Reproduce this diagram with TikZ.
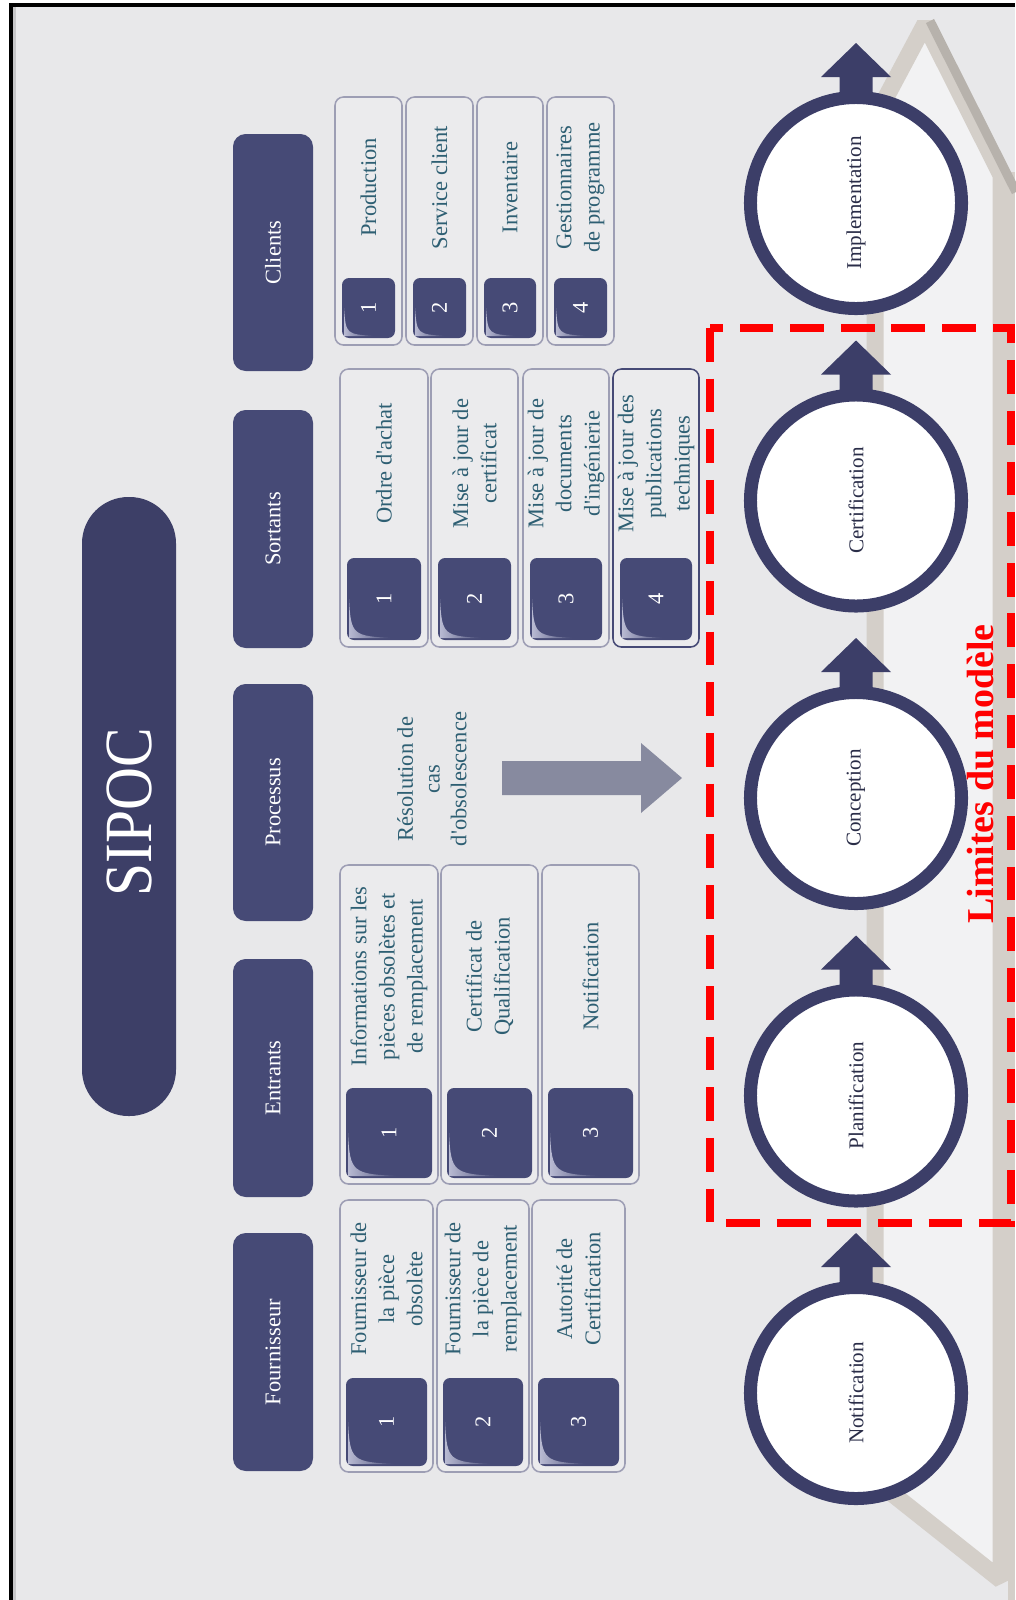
\documentclass[tikz,border=0pt]{standalone}
\usepackage{fontspec}
\usepackage{graphicx}
\setmainfont{Liberation Serif}
\usetikzlibrary{fit,calc}

\definecolor{panel}{HTML}{E8E8EA}
\definecolor{navy}{HTML}{464A76}
\definecolor{pillnavy}{HTML}{3D3F67}
\definecolor{ring}{HTML}{3C3E68}
\definecolor{itemfill}{HTML}{EBEBED}
\definecolor{itemline}{HTML}{9D9EB4}
\definecolor{itemtext}{HTML}{2E5F73}
\definecolor{band}{HTML}{D4CFC9}
\definecolor{bandshade}{HTML}{B7B2AC}
\definecolor{innerfill}{HTML}{F2F2F3}
\definecolor{flow}{HTML}{878A9F}
\definecolor{steptext}{HTML}{2A2D48}
\definecolor{gloss}{HTML}{B8BAD2}
\definecolor{limred}{HTML}{FF0000}
\definecolor{edgeshade}{HTML}{C6C6C8}

\newcommand\boxfont{\fontsize{16pt}{20pt}\selectfont}

\tikzset{
  itembox/.style={draw=itemline, fill=itemfill, line width=1.1pt, rounded corners=6pt, inner sep=0pt},
  itemextra/.style={},
  numbox/.style={fill=navy, rounded corners=5pt, inner sep=0pt},
  numtext/.style={text=white, font=\boxfont, inner sep=0pt},
  itemtext/.style={text=itemtext, font=\boxfont, align=center, inner sep=0pt},
  hdr/.style={fill=navy, rounded corners=9pt, inner sep=0pt},
  hdrtext/.style={text=white, font=\boxfont, inner sep=0pt},
  stepcircle/.style={circle, draw=ring, fill=white, line width=9.25pt, minimum size=5.275cm,
    inner sep=0pt, text=steptext, font=\fontsize{15pt}{18pt}\selectfont},
}

% one numbered SIPOC entry: name, x0, x1, y0, y1, top of number square, inset, number, text
\newcommand\sipocitem[9]{%
  \pgfmathsetmacro\sqL{#2+#7}%
  \pgfmathsetmacro\sqR{#3-#7}%
  \pgfmathsetmacro\sqB{#5-#7}%
  \pgfmathsetmacro\glW{0.62*(\sqR-\sqL)}%
  \pgfmathsetmacro\glH{0.5*(\sqB-#6)}%
  \pgfmathsetmacro\txX{(#2+#3)/2}%
  \pgfmathsetmacro\txY{(#4+#6)/2}%
  \node[itembox, itemextra, fit={(#2,#4) (#3,#5)}] (#1) {};
  \node[numbox, fit={(\sqL,#6) (\sqR,\sqB)}] (#1n) {};
  \begin{scope}
    \clip[rounded corners=5pt] (\sqL,#6) rectangle (\sqR,\sqB);
    \path[left color=gloss, right color=navy]
      ({\sqL+2},{\sqB-\glH}) -- ({\sqL+2},{\sqB-2}) -- ({\sqL+\glW},{\sqB-2})
      .. controls ({\sqL+0.12*\glW},{\sqB-4}) and ({\sqL+4},{\sqB-0.12*\glH}) ..
      ({\sqL+2},{\sqB-\glH}) -- cycle;
  \end{scope}
  \node[numtext, rotate=90] at (#1n.center) {#8};
  \node[itemtext, rotate=90] (#1t) at (\txX,\txY) {#9};
}

% up arrow sitting on top of a step circle
\newcommand\steparrow[1]{%
  \fill[ring] ($(#1.center)+(-16.5,-104)$) -- ($(#1.center)+(-16.5,-126)$)
    -- ($(#1.center)+(-35,-126)$) -- ($(#1.center)+(0,-160)$)
    -- ($(#1.center)+(35,-126)$) -- ($(#1.center)+(16.5,-126)$)
    -- ($(#1.center)+(16.5,-104)$) -- cycle;
}

\begin{document}
\begin{tikzpicture}[x=0.025cm, y=-0.025cm]
\useasboundingbox (0,0) rectangle (1015,1600);

% page and frame
\fill[white] (0,0) rectangle (1015,1600);
\fill[panel] (11,5) rectangle (1015,1600);
\draw[edgeshade, line width=2pt] (14.5,7) -- (14.5,1600);
\draw[black, line width=2.2pt] (11,1600) -- (11,5) -- (1015,5);

% chevron ribbon behind the process steps
\fill[innerfill] (875,1480) -- (875,118) -- (925,24) -- (1001,175) -- (1001,1580) -- cycle;
\draw[band, line width=12.1pt, line join=bevel] (875,1480) -- (875,118) -- (925,24) -- (1001,175) -- (1001,1580) -- cycle;
\fill[band] (1008,172) rectangle (1015,1600);
\draw[bandshade, line width=6.5pt] (930,21) -- (1016,192);

% title
\node[fill=pillnavy, rounded corners=33pt, inner sep=0pt, fit={(82,497) (176,1116)}] (title) {};
\node[rotate=90, text=white, font=\fontsize{48pt}{52pt}\selectfont, inner sep=0pt] (titletext) at (129,812) {\scalebox{0.88}[1]{SIPOC}};

% column headers
\node[hdr, fit={(233,134) (313,371)}] (hC) {};
\node[hdrtext, rotate=90] (hCt) at (hC.center) {Clients};
\node[hdr, fit={(233,410) (313,648)}] (hO) {};
\node[hdrtext, rotate=90] (hOt) at (hO.center) {Sortants};
\node[hdr, fit={(233,684) (313,921)}] (hP) {};
\node[hdrtext, rotate=90] (hPt) at (hP.center) {Processus};
\node[hdr, fit={(233,959) (313,1197)}] (hI) {};
\node[hdrtext, rotate=90] (hIt) at (hI.center) {Entrants};
\node[hdr, fit={(233,1233) (313,1471)}] (hS) {};
\node[hdrtext, rotate=90] (hSt) at (hS.center) {Fournisseur};

% suppliers
\sipocitem{s1}{340}{433}{1200}{1472}{1378}{6}{1}{Fournisseur de\\la pièce\\obsolète}
\sipocitem{s2}{437}{529}{1200}{1472}{1378}{6}{2}{Fournisseur de\\la pièce de\\remplacement}
\sipocitem{s3}{532}{625}{1200}{1472}{1378}{6}{3}{Autorité de\\Certification}

% inputs
\sipocitem{i1}{340}{438}{865}{1184}{1088}{6}{1}{Informations sur les\\pièces obsolètes et\\de remplacement}
\sipocitem{i2}{441}{538}{865}{1184}{1088}{6}{2}{Certificat de\\Qualification}
\sipocitem{i3}{542}{639}{865}{1184}{1088}{6}{3}{Notification}

% process
\node[itemtext, rotate=90, font=\fontsize{16pt}{19pt}\selectfont] (proc) at (432,779) {Résolution de\\cas\\d\textquotesingle obsolescence};
\fill[flow] (502,761) -- (641,761) -- (641,743) -- (682,778) -- (641,813) -- (641,795) -- (502,795) -- cycle;

% outputs
\sipocitem{o1}{340}{428}{369}{647}{558}{7}{1}{Ordre d\textquotesingle achat}
\sipocitem{o2}{431}{518}{369}{647}{558}{7}{2}{Mise à jour de\\certificat}
\sipocitem{o3}{523}{609}{369}{647}{558}{7}{3}{Mise à jour de\\documents\\d\textquotesingle ingénierie}
\tikzset{itemextra/.style={draw=navy}}
\sipocitem{o4}{613}{699}{369}{647}{558}{7}{4}{Mise à jour des\\publications\\techniques}
\tikzset{itemextra/.style={}}

% customers
\sipocitem{c1}{335}{402}{97}{345}{278}{7}{1}{Production}
\sipocitem{c2}{406}{473}{97}{345}{278}{7}{2}{Service client}
\sipocitem{c3}{477}{543}{97}{345}{278}{7}{3}{Inventaire}
\sipocitem{c4}{547}{614}{97}{345}{278}{7}{4}{Gestionnaires\\de programme}

% process steps
\node[stepcircle, rotate=90] (st1) at (856,1393) {Notification};
\node[stepcircle, rotate=90] (st2) at (856,1095.5) {Planification};
\node[stepcircle, rotate=90] (st3) at (856,798) {Conception};
\node[stepcircle, rotate=90] (st4) at (856,500.5) {Certification};
\node[stepcircle, rotate=90] (st5) at (856,203) {Implementation};
\steparrow{st1}
\steparrow{st2}
\steparrow{st3}
\steparrow{st4}
\steparrow{st5}

% model boundary
\draw[limred, line width=5.7pt, dash pattern=on 24pt off 12pt] (710,328) rectangle (1011,1223);
\node[rotate=90, text=limred, font=\bfseries\fontsize{27pt}{30pt}\selectfont, inner sep=0pt] (limits) at (981,774) {Limites du modèle};
\end{tikzpicture}
\end{document}
